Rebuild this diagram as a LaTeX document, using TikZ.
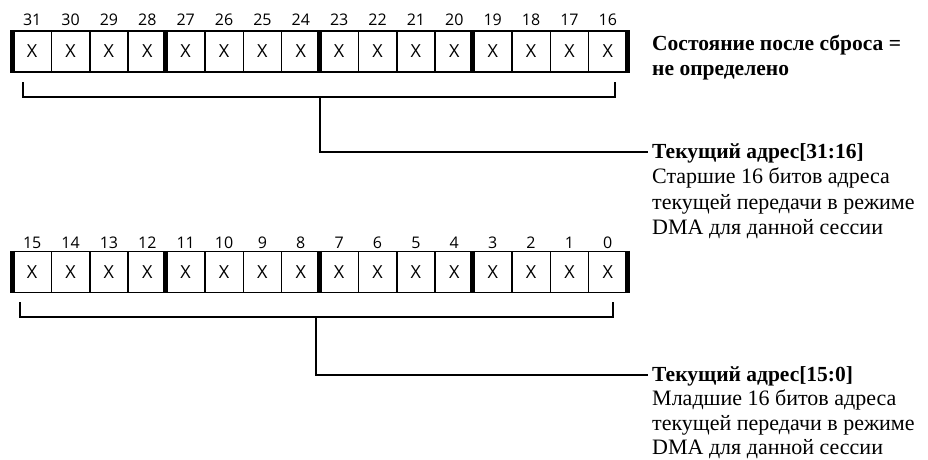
\documentclass[tikz,border=0pt]{standalone}
\usepackage{fontspec}
\setmainfont{Liberation Serif}
\newfontfamily\bitfont{Open Sans}
\begin{document}
\begin{tikzpicture}[x=1pt,y=-1pt,
  cell/.style={draw,line width=1.5pt,minimum width=38.375pt,minimum height=41pt,
    inner sep=0pt,font=\bitfont\fontsize{18}{18}\selectfont},
  bitnum/.style={inner sep=0pt,font=\bitfont\fontsize{16}{16}\selectfont},
  bar/.style={line width=5pt},
  link/.style={line width=2.5pt},
  txt/.style={inner sep=0pt,anchor=base west,font=\fontsize{22}{25}\selectfont},
  ttl/.style={txt,font=\fontsize{21.5}{25}\selectfont\bfseries}]
\useasboundingbox (0,0) rectangle (928,459);

% upper half-word: bits 31..16
\foreach \i in {0,...,15} {
  \pgfmathtruncatemacro\b{31-\i}
  \node[cell] (hi\b) at ({13+38.375*(\i+0.5)},51.5) {X};
  \node[bitnum] (hn\b) at ({13+38.375*(\i+0.5)},20) {\b};
}
\foreach \b in {31,27,23,19}
  \draw[bar] (hi\b.north west) -- (hi\b.south west);
\draw[bar] (hi16.north east) -- (hi16.south east);

% lower half-word: bits 15..0
\foreach \i in {0,...,15} {
  \pgfmathtruncatemacro\b{15-\i}
  \node[cell] (lo\b) at ({13+38.375*(\i+0.5)},272) {X};
  \node[bitnum] (ln\b) at ({13+38.375*(\i+0.5)},243) {\b};
}
\foreach \b in {15,11,7,3}
  \draw[bar] (lo\b.north west) -- (lo\b.south west);
\draw[bar] (lo0.north east) -- (lo0.south east);

% reset state
\node[ttl] (reset1) at (652,50) {Состояние после сброса =};
\node[ttl] (reset2) at (652,75.5) {не определено};

% field descriptions
\node[ttl] (hititle) at (652,158) {Текущий адрес[31:16]};
\node[txt] (hid1) at (652,183.5) {Старшие 16 битов адреса};
\node[txt] (hid2) at (652,209) {текущей передачи в режиме};
\node[txt] (hid3) at (652,234.5) {DMA для данной сессии};

\node[ttl] (lotitle) at (652,381) {Текущий адрес[15:0]};
\node[txt] (lod1) at (652,405.5) {Младшие 16 битов адреса};
\node[txt] (lod2) at (652,430) {текущей передачи в режиме};
\node[txt] (lod3) at (652,454) {DMA для данной сессии};

% brackets
\coordinate (hil) at (23,82);
\coordinate (hir) at (615,82);
\coordinate (hij) at (320,97);
\coordinate (hie) at (648,152);
\draw[link] (hil) |- (hir |- hij) -- (hir);
\draw[link] (hij) |- (hie);

\coordinate (lol) at (20,302);
\coordinate (lor) at (613,302);
\coordinate (loj) at (316,317);
\coordinate (loe) at (648,375);
\draw[link] (lol) |- (lor |- loj) -- (lor);
\draw[link] (loj) |- (loe);
\end{tikzpicture}
\end{document}
